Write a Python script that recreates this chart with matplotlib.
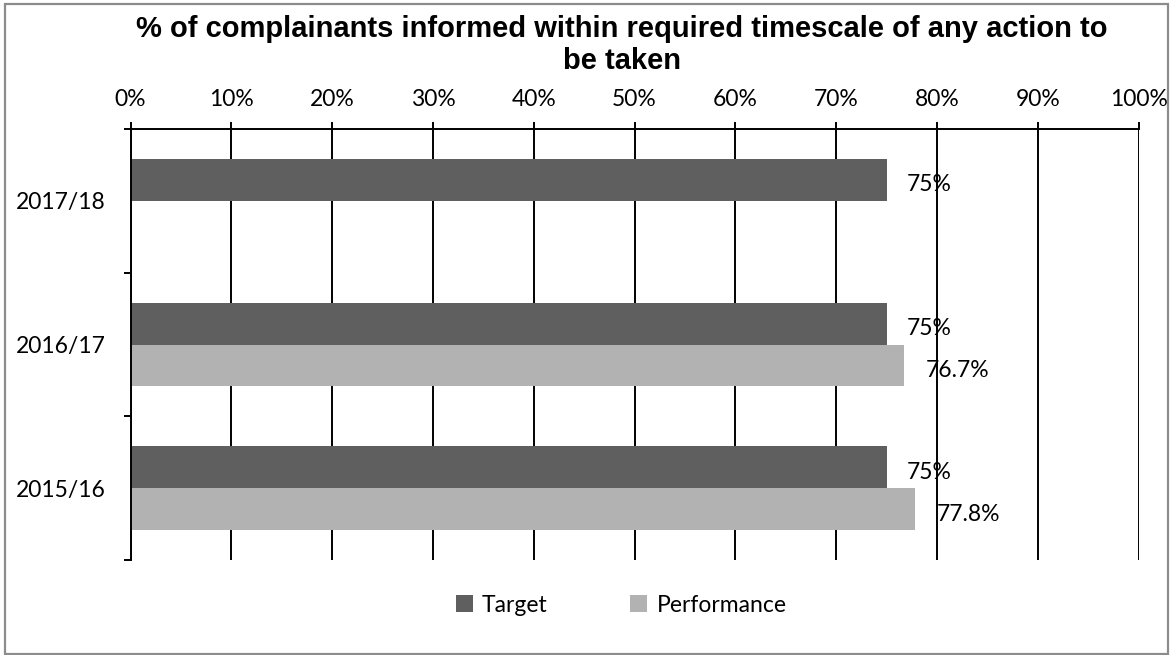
import numpy as np
import matplotlib
matplotlib.use("Agg")
import matplotlib.pyplot as plt
from matplotlib.patches import Rectangle

# Data
years = ["2015/16", "2016/17", "2017/18"]
target = [75, 75, 75]
performance = [77.8, 76.7, np.nan]
x_ticks = list(range(0, 101, 10))
x_tick_labels = [f"{t}%" for t in x_ticks]

title = "% of complainants informed within required timescale of any action to\nbe taken"

DARK = "#5f5f5f"
LIGHT = "#b2b2b2"
BODY_FONT = "Lato"
BODY_SIZE = 16.5

W, H = 1174, 655
fig = plt.figure(figsize=(W / 100, H / 100), dpi=100)
fig.patch.set_facecolor("white")

# outer chart frame
fig.patches.append(Rectangle((5 / W, 1 - 654 / H), (1168 - 5) / W, (654 - 4) / H,
                             transform=fig.transFigure, fill=False,
                             edgecolor="#8c8c8c", linewidth=1.6))

ax = fig.add_axes([130.5 / W, 1 - 560 / H, (1138.7 - 130.5) / W, (560 - 129) / H])

y = np.arange(len(years))
h = 0.292
ax.barh(y + h / 2, target, height=h, color=DARK, label="Target", zorder=3)
ax.barh(y - h / 2, performance, height=h, color=LIGHT, label="Performance", zorder=3)

# value labels
for yi, v in zip(y, target):
    ax.annotate(f"{v:g}%", xy=(v, yi + h / 2), xytext=(14.5, -3.5),
                textcoords="offset points", va="center", ha="left",
                fontsize=BODY_SIZE, family=BODY_FONT, zorder=5)
for yi, v in zip(y, performance):
    if np.isnan(v):
        continue
    ax.annotate(f"{v:.1f}%", xy=(v, yi - h / 2), xytext=(15.5, -3.5),
                textcoords="offset points", va="center", ha="left",
                fontsize=BODY_SIZE, family=BODY_FONT, zorder=5)

ax.set_xlim(0, 100)
ax.set_ylim(-0.5, 2.5)

ax.xaxis.tick_top()
ax.set_xticks(x_ticks)
ax.set_xticklabels(x_tick_labels, fontsize=BODY_SIZE, family=BODY_FONT)
ax.tick_params(axis="x", direction="out", length=5, width=1.4, pad=9)

ax.set_yticks([-0.5, 0.5, 1.5, 2.5])
ax.set_yticklabels([])
ax.set_yticks(y, minor=True)
ax.set_yticklabels(years, minor=True, fontsize=BODY_SIZE, family=BODY_FONT)
ax.tick_params(axis="y", which="major", direction="out", length=5, width=1.4)
ax.tick_params(axis="y", which="minor", length=0, pad=18)

ax.grid(axis="x", color="black", linewidth=1.4, zorder=0)
for side in ["bottom", "right"]:
    ax.spines[side].set_visible(False)
for side in ["top", "left"]:
    ax.spines[side].set_linewidth(1.4)
    ax.spines[side].set_zorder(4)

fig.text(622 / W, 1 - 45 / H, title, ha="center", va="center",
         fontsize=21, fontweight="bold", family="Liberation Sans",
         linespacing=1.2)

fig.legend(loc="center", bbox_to_anchor=(621 / W, 1 - 605 / H),
           ncol=2, frameon=False, prop={"family": BODY_FONT, "size": BODY_SIZE},
           handlelength=0.75, handleheight=0.75, handletextpad=0.4,
           columnspacing=3.6)

fig.savefig("out.png", dpi=100, facecolor="white")
